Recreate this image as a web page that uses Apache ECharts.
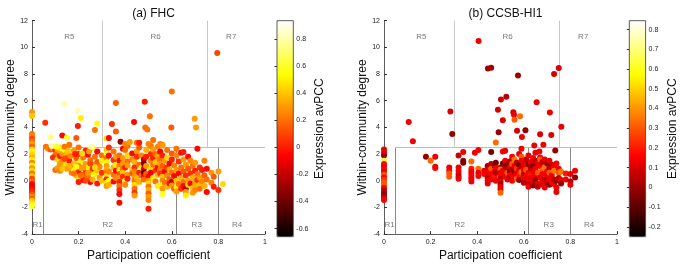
<!DOCTYPE html>
<html><head><meta charset="utf-8">
<script src="https://cdn.jsdelivr.net/npm/echarts@6/dist/echarts.min.js"></script>
<style>html,body{margin:0;padding:0;background:#fff}#c{width:684px;height:267px}</style>
</head><body><div id="c"></div>
<script>
// ---- data: [participation coefficient, within-community degree, expression avPCC]
const fhcR1 = [[0,5.15,0.3],[0,4.85,0.4],[0,3.5,0.2],[0,3.35,0.25],[0,3.15,0.1],[0,2.95,0.2],[0,2.75,0.3],[0,2.55,0.15],[0,2.35,0.45],[0,2.15,0.5],[0,1.95,0.45],[0,1.75,0.35],[0,1.55,0.5],[0,1.35,0.25],[0,1.15,0.55],[0,0.95,0.3],[0,0.75,0.45],[0,0.55,0.2],[0,0.35,0.4],[0,0.15,0.1],[0,-0.05,0.2],[0,-0.25,-0.05],[0,-0.45,-0.1],[0,-0.6,-0.05],[0,-0.75,0.0],[0,-0.9,0.05],[0,-1.05,0.15],[0,-1.2,0.25],[0,-1.35,0.15],[0,-1.5,0.4],[0,-1.7,0.5],[0,-1.9,0.6]];
const fhcHub = [[0.057,4.35,0.05],[0.08,3.26,0.75],[0.13,3.4,-0.05],[0.14,5.78,0.8],[0.15,3.25,0.6],[0.19,3.2,0.15],[0.197,5.24,0.8],[0.197,4.1,0.0],[0.21,4.7,0.5],[0.255,2.55,0.8],[0.27,3.8,0.2],[0.28,4.3,0.55],[0.32,3.16,0.45],[0.33,3.2,-0.05],[0.343,4.25,0.05],[0.36,5.83,0.15],[0.36,3.7,0.15],[0.38,2.92,-0.3],[0.4,2.75,0.25],[0.42,2.9,0.3],[0.438,4.4,-0.05],[0.45,2.85,0.2],[0.46,2.85,0.0],[0.484,5.93,0.0],[0.486,4.0,0.2],[0.495,3.85,0.2],[0.5,2.75,0.25],[0.506,4.84,0.2],[0.52,3.05,0.2],[0.55,2.75,0.25],[0.56,2.65,0.3],[0.598,4.0,0.15],[0.6,6.69,0.2],[0.698,4.64,0.3],[0.704,4.0,0.3],[0.795,9.58,0.1]];
const fhcLow = [[0.06,2.55,0.2],[0.07,2.4,0.25],[0.08,2.35,0.15],[0.09,2.45,0.3],[0.1,2.3,0.05],[0.11,2.15,0.35],[0.12,2.5,0.5],[0.1,1.95,0.2],[0.09,1.75,0.05],[0.11,1.6,0.45],[0.12,1.85,0.0],[0.13,2.0,0.3],[0.13,1.45,0.2],[0.14,2.3,0.55],[0.14,1.2,0.45],[0.15,2.05,0.35],[0.15,1.7,0.2],[0.15,0.9,0.3],[0.16,1.5,0.0],[0.16,2.7,0.2],[0.17,1.9,0.5],[0.17,1.05,0.15],[0.17,0.6,0.25],[0.18,2.25,0.3],[0.18,1.3,0.4],[0.18,0.8,0.5],[0.19,1.7,0.15],[0.19,0.4,0.35],[0.2,2.0,0.05],[0.2,1.15,0.25],[0.2,0.7,0.0],[0.2,0.2,0.45],[0.21,1.5,0.5],[0.21,0.95,0.3],[0.22,1.75,0.2],[0.22,0.45,0.15],[0.22,0.05,-0.05],[0.23,2.25,0.0],[0.23,1.25,0.3],[0.23,0.8,0.05],[0.24,1.95,-0.05],[0.24,1.0,0.5],[0.24,0.3,0.2],[0.25,1.55,0.2],[0.25,0.65,0.45],[0.25,-0.1,-0.05],[0.26,2.45,0.55],[0.26,1.2,0.3],[0.26,0.9,0.05],[0.26,0.1,0.35],[0.27,1.8,0.2],[0.27,0.5,0.5],[0.28,2.2,-0.05],[0.28,1.4,0.15],[0.28,0.75,0.4],[0.28,-0.2,0.0],[0.29,1.05,0.25],[0.29,0.25,0.3],[0.3,1.9,0.2],[0.3,1.5,0.5],[0.3,0.6,0.05],[0.3,0.0,0.4],
[0.1,0.8,0.2],[0.11,0.95,0.3],[0.12,0.75,0.25],[0.13,0.9,0.4],[0.14,1.65,0.1],[0.12,1.25,0.3],[0.16,1.1,0.35],[0.19,1.05,0.55],[0.21,0.4,0.2],[0.23,0.0,0.1],[0.085,2.6,0.8],[0.105,2.55,0.6],[0.14,2.55,0.2],[0.155,2.25,0.4],[0.165,1.85,0.25],[0.185,2.0,0.0],[0.2,2.5,0.2],[0.215,2.05,0.45],[0.245,2.2,0.3],[0.25,1.3,0.1],[0.27,1.0,0.45],[0.22,1.0,0.3],[0.18,0.55,0.2],[0.2,-0.1,0.0],[0.24,0.6,0.3],
[0.32,2.3,0.4],[0.32,2.0,0.55],[0.32,1.7,0.2],[0.32,1.4,0.5],[0.32,1.1,0.3],[0.32,0.85,0.35],[0.32,0.6,0.2],[0.32,0.35,0.45],[0.32,0.1,0.0],[0.32,-0.15,0.5],[0.32,-0.4,0.3],
[0.33,2.5,0.05],[0.33,1.9,-0.05],[0.33,0.7,0.25],[0.33,0.0,0.55],[0.33,-0.3,0.35],
[0.35,2.2,0.2],[0.35,1.55,0.05],[0.35,1.0,0.35],[0.35,0.45,0.2],[0.35,-0.05,-0.05],
[0.36,1.8,0.3],[0.36,1.2,0.5],[0.36,0.75,-0.05],[0.36,0.2,0.25],
[0.375,1.9,0.2],[0.375,1.5,-0.05],[0.375,1.1,0.25],[0.375,0.8,0.5],[0.375,0.5,0.15],[0.375,0.2,0.3],[0.375,-0.1,0.0],[0.375,-0.4,0.2],[0.375,-0.7,0.05],[0.375,-1.0,-0.05],[0.375,-1.65,-0.05],
[0.39,2.4,-0.05],[0.39,1.7,0.3],[0.39,1.3,0.3],[0.39,0.9,0.2],[0.39,0.6,0.4],[0.39,0.3,0.05],
[0.4,2.3,0.2],[0.4,1.0,0.0],[0.4,0.0,0.5],[0.4,-0.3,0.25],
[0.41,2.6,0.2],[0.41,1.9,0.45],[0.41,1.45,0.2],[0.41,1.15,0.3],[0.41,0.45,0.3],[0.41,0.15,0.0],
[0.43,2.05,-0.05],[0.43,1.6,0.25],[0.43,0.85,0.4],[0.43,0.55,0.15],
[0.44,1.4,0.35],[0.44,1.0,0.05],[0.44,0.7,0.25],[0.44,0.3,0.3],[0.44,0.0,0.2],[0.44,-0.3,0.45],[0.44,-0.6,0.2],[0.44,-0.9,0.05],[0.44,-1.1,0.3],
[0.45,2.2,0.3],[0.45,1.8,0.05],[0.45,0.2,0.35],
[0.46,2.5,0.15],[0.46,1.2,0.2],[0.46,0.6,0.0],[0.46,-0.1,0.35],
[0.47,1.9,0.25],[0.47,1.0,0.5],[0.47,0.4,0.2],
[0.48,1.6,-0.2],[0.48,1.3,-0.35],[0.48,0.9,-0.15],[0.48,0.6,-0.45],[0.48,0.3,-0.05],[0.48,0.1,0.2],
[0.49,2.3,0.35],[0.49,1.8,0.0],[0.49,1.1,0.3],[0.49,0.5,0.15],
[0.5,0.3,-0.05],[0.5,0.0,0.3],[0.5,-0.2,0.45],[0.5,-0.45,0.2],[0.5,-0.7,0.35],[0.5,-0.95,0.15],[0.5,-1.2,0.3],[0.5,-1.45,0.25],[0.5,-2.1,0.0],
[0.51,2.6,0.2],[0.51,2.0,0.05],[0.51,1.5,0.25],[0.51,0.9,0.45],[0.51,0.6,-0.1],
[0.52,2.35,0.3],[0.52,1.7,0.0],[0.52,1.2,0.2],[0.52,0.2,0.5],
[0.53,2.0,0.2],[0.53,1.4,0.4],[0.53,0.75,0.05],[0.53,-0.05,0.2],
[0.54,2.55,0.25],[0.54,1.8,0.3],[0.54,1.0,-0.05],[0.54,0.45,0.35],[0.54,-0.4,0.5],
[0.55,2.2,-0.05],[0.55,1.55,0.2],[0.55,1.25,0.3],[0.55,0.85,0.25],[0.55,0.55,0.05],
[0.56,2.7,0.3],[0.56,1.9,0.0],[0.56,1.1,0.15],[0.56,0.3,0.4],[0.56,0.0,0.25],[0.56,-0.3,0.5],[0.56,-0.6,0.3],[0.56,-1.0,0.6],
[0.57,1.5,0.3],[0.57,0.7,-0.05],[0.57,-0.15,0.2],
[0.58,2.3,0.2],[0.58,1.75,0.45],[0.58,1.0,0.05],[0.58,0.4,0.25],[0.58,-0.45,0.35],
[0.59,1.3,-0.05],[0.59,0.85,0.35],[0.59,0.1,0.15],[0.59,-0.2,0.0],
[0.6,2.05,0.15],[0.6,1.6,0.0],[0.6,0.6,0.2],[0.6,-0.1,-0.2],[0.6,-0.35,0.3],
[0.61,1.15,0.25],[0.61,0.35,-0.05],[0.61,-0.6,0.15],
[0.62,2.4,0.2],[0.62,1.9,0.25],[0.62,0.8,0.3],[0.62,0.0,0.4],[0.62,-0.5,0.5],[0.62,-0.8,0.3],
[0.63,1.45,0.05],[0.63,0.55,-0.05],[0.63,-0.25,0.2],
[0.64,2.1,-0.05],[0.64,1.0,0.2],[0.64,0.2,0.35],[0.64,-0.6,0.05],
[0.65,2.15,0.0],[0.65,1.6,0.3],[0.65,0.7,0.15],[0.65,-0.1,0.2],[0.65,-0.4,-0.05],
[0.66,1.2,0.3],[0.66,0.4,0.05],[0.66,-0.6,-0.2],[0.66,-0.85,0.3],[0.66,-1.1,0.5],
[0.67,1.8,-0.05],[0.67,0.9,0.15],[0.67,0.0,0.3],[0.67,-0.3,0.45],
[0.68,1.5,0.25],[0.68,0.55,0.05],[0.68,-0.2,-0.05],
[0.69,1.1,0.2],[0.69,0.25,0.35],[0.69,-0.55,0.4],[0.69,-0.9,0.3],
[0.7,1.35,0.3],[0.7,0.75,0.0],[0.7,-0.1,0.3],[0.7,-0.35,0.35],[0.7,-0.7,0.25],
[0.71,2.4,-0.05],[0.71,0.5,0.2],[0.71,0.05,0.05],
[0.72,1.0,0.05],[0.72,0.2,0.3],[0.72,-0.3,0.4],[0.72,-0.6,0.2],
[0.73,0.8,0.0],[0.73,-0.05,0.25],
[0.74,1.5,0.25],[0.74,0.4,0.15],[0.74,-0.4,0.35],
[0.75,0.9,-0.05],[0.75,0.1,0.2],[0.75,-0.85,-0.05],
[0.77,0.6,0.3],[0.77,-0.15,0.25],
[0.78,0.3,0.15],[0.78,-0.45,0.0],
[0.8,0.7,0.3],[0.8,-0.7,0.05],
[0.82,-0.25,0.45]];

const ccsbR1 = [[0,2.35,0.13],[0,2.1,0.13],[0,1.9,0.0],[0,1.5,0.6],[0,1.25,0.15],[0,1.05,0.13],[0,0.85,0.15],[0,0.65,0.13],[0,0.45,0.3],[0,0.25,0.15],[0,0.05,0.25],[0,-0.15,0.3],[0,-0.35,0.3],[0,-0.55,0.15],[0,-0.75,0.05],[0,-0.95,0.0],[0,-1.15,0.0],[0,-1.3,0.1],[0,-1.45,0.15]];
const ccsbHub = [[0.106,4.4,0.13],[0.124,2.96,0.13],[0.285,5.19,0.1],[0.293,3.5,0.0],[0.406,10.47,0.13],[0.446,8.42,0.0],[0.46,8.47,0.02],[0.48,2.86,0.33],[0.489,5.33,0.1],[0.492,3.63,0.0],[0.502,6.1,0.08],[0.51,4.54,0.1],[0.525,6.3,0.05],[0.555,5.14,0.1],[0.558,4.94,0.13],[0.56,4.57,0.3],[0.571,3.75,0.1],[0.575,7.9,0.0],[0.584,4.84,0.33],[0.592,3.28,0.13],[0.607,3.78,0.0],[0.645,2.65,0.13],[0.655,5.88,0.13],[0.67,3.48,0.1],[0.684,2.69,0.13],[0.712,5.11,0.13],[0.718,3.43,0.1],[0.73,8.0,0.1],[0.75,8.45,0.1],[0.761,4.05,0.13]];
const ccsbLow = [[0.18,1.8,0.0],[0.2,1.5,0.33],[0.22,1.8,0.13],[0.22,1.05,0.13],[0.22,0.95,0.15],
[0.28,1.0,0.13],[0.28,0.75,0.15],[0.28,0.55,0.3],[0.28,0.3,0.3],
[0.32,1.9,0.08],[0.32,1.0,0.13],[0.32,0.75,0.15],[0.32,0.5,0.13],[0.32,0.3,0.05],[0.32,0.15,0.13],
[0.34,2.15,0.13],[0.34,1.5,0.0],[0.34,1.35,-0.05],
[0.375,1.45,0.33],[0.375,0.9,0.2],[0.375,0.7,0.15],[0.375,0.5,0.13],[0.375,0.3,0.15],[0.375,0.15,0.13],[0.375,-0.05,0.13],
[0.39,2.1,0.13],[0.405,2.3,0.15],[0.405,0.9,0.33],[0.405,0.6,0.13],[0.405,0.35,0.15],
[0.43,0.75,0.13],[0.43,0.5,0.15],
[0.445,1.1,0.0],[0.445,0.8,0.13],[0.445,0.6,0.15],[0.445,0.4,0.13],[0.445,0.2,0.05],[0.445,0.0,0.13],[0.445,-0.2,0.13],
[0.46,2.15,-0.05],[0.46,1.25,0.05],[0.46,0.9,0.3],[0.46,0.5,0.15],[0.46,0.1,0.13],
[0.475,1.1,0.0],[0.475,0.7,0.13],[0.475,0.3,0.2],
[0.48,1.35,-0.05],[0.48,0.95,0.15],[0.48,0.6,0.05],[0.48,0.0,0.13],
[0.5,1.0,0.05],[0.5,0.85,0.33],[0.5,0.6,0.13],[0.5,0.4,0.15],[0.5,0.15,0.05],[0.5,-0.05,0.13],[0.5,-0.25,0.0],[0.5,-0.45,0.13],[0.5,-0.65,0.13],[0.5,-0.9,0.33],
[0.51,2.2,0.15],[0.51,1.3,-0.05],[0.51,0.75,0.13],
[0.52,2.25,0.13],[0.52,1.5,0.13],[0.52,1.1,0.0],[0.52,0.55,0.15],[0.52,0.3,0.13],
[0.53,1.2,-0.05],[0.53,0.9,0.0],[0.53,0.6,0.3],[0.53,0.1,0.13],
[0.54,1.45,0.05],[0.54,1.0,0.13],[0.54,0.7,-0.05],[0.54,0.4,0.15],[0.54,0.2,0.05],
[0.55,1.8,0.15],[0.55,1.25,0.3],[0.55,0.85,0.05],[0.55,0.45,0.13],[0.55,0.0,0.15],
[0.56,1.6,0.35],[0.56,1.1,0.13],[0.56,0.7,0.0],[0.56,0.3,0.13],
[0.57,1.35,0.05],[0.57,0.9,0.25],[0.57,0.55,0.13],[0.57,0.15,0.3],
[0.58,2.0,0.13],[0.58,1.2,-0.05],[0.58,0.8,0.13],[0.58,0.4,0.2],[0.58,0.05,0.0],
[0.59,2.4,0.13],[0.59,1.8,0.3],[0.59,1.5,0.15],[0.59,1.0,0.05],[0.59,0.65,0.35],
[0.6,1.3,0.13],[0.6,0.85,0.15],[0.6,0.5,0.05],[0.6,0.15,0.13],[0.6,-0.15,0.05],
[0.61,1.6,0.05],[0.61,1.05,0.15],[0.61,0.8,0.3],[0.61,0.3,0.13],
[0.62,1.9,0.13],[0.62,1.25,0.0],[0.62,0.6,0.15],[0.62,0.0,0.13],[0.62,-0.25,0.05],[0.62,-0.45,0.13],
[0.63,1.4,0.13],[0.63,0.95,0.05],[0.63,0.45,0.2],[0.63,0.2,0.13],
[0.64,1.7,0.15],[0.64,1.1,-0.05],[0.64,0.7,0.13],[0.64,-0.1,0.15],[0.64,-0.35,0.0],
[0.65,2.1,0.13],[0.65,1.5,0.05],[0.65,0.9,0.15],[0.65,0.35,0.13],[0.65,0.05,0.0],
[0.66,1.3,0.13],[0.66,0.6,0.3],[0.66,-0.2,0.13],[0.66,-0.45,0.05],
[0.667,2.2,0.13],[0.67,1.75,0.13],[0.67,1.6,0.3],[0.67,1.1,0.15],[0.67,0.25,0.13],
[0.68,1.4,0.05],[0.68,0.8,0.3],[0.68,0.5,0.13],[0.68,0.0,0.15],[0.68,-0.3,0.13],
[0.69,1.6,0.13],[0.69,1.0,0.35],[0.69,0.1,0.05],[0.69,-0.5,0.13],
[0.7,1.3,0.0],[0.7,0.7,0.15],[0.7,0.35,0.13],[0.7,-0.15,0.05],
[0.71,1.5,0.13],[0.71,0.95,0.05],[0.71,0.6,0.3],[0.71,0.0,0.13],[0.71,-0.3,0.0],
[0.72,1.2,0.05],[0.72,0.4,0.13],[0.72,-0.1,0.15],
[0.73,1.05,0.13],[0.73,0.75,0.35],[0.73,0.1,0.05],[0.73,-0.25,0.13],
[0.735,2.26,0.0],[0.74,1.3,0.15],[0.74,0.0,0.0],[0.74,-0.5,0.13],[0.74,-0.85,0.13],
[0.75,0.9,0.13],[0.75,0.6,0.3],[0.75,0.2,0.05],
[0.76,0.7,0.35],[0.76,0.05,0.13],[0.76,-0.2,0.0],
[0.78,0.55,0.2],[0.78,0.1,0.13],
[0.8,0.5,0.13],[0.8,-0.05,0.05],[0.8,-0.3,0.13],
[0.82,0.75,0.15],[0.82,0.25,0.0]];

// colour ranges (from colour bars)
const fhcRange = [-0.66, 0.935];
const ccsbRange = [-0.25, 0.845];
const fhcBarTicks = [-0.6,-0.4,-0.2,0,0.2,0.4,0.6,0.8];
const ccsbBarTicks = [-0.2,-0.1,0,0.1,0.2,0.3,0.4,0.5,0.6,0.7,0.8];
// region boundaries
const zHub = 2.5;
const pcLowBounds = [0.05, 0.62, 0.8];
const pcHubBounds = [0.3, 0.75];
const regionNames = ['R1','R2','R3','R4','R5','R6','R7'];
const regionPC = [0.024, 0.325, 0.707, 0.88, 0.16, 0.53, 0.855];
const regionZ = [-3.3, -3.3, -3.3, -3.3, 10.8, 10.8, 10.8];
const titles = ['(a) FHC', '(b) CCSB-HI1'];

const FONT = 'Liberation Sans, Arial, sans-serif';
const hot = ['#000000','#550000','#aa0000','#ff0000','#ff5500','#ffaa00','#ffff00','#ffff80','#ffffff'];
const yMin = -4, yMax = 12;

const chart = echarts.init(document.getElementById('c'), null, {renderer:'canvas'});
const plotLefts = [32, 384];
const barLefts = [277, 629.3];
const TOP = 20.7, H = 216, W = 233;

function boundaryLines(){
  const d = [];
  pcLowBounds.forEach(p => d.push({coords:[[p,yMin],[p,zHub]], lineStyle:{color:'#8a8a8a'}}));
  pcHubBounds.forEach(p => d.push({coords:[[p,zHub],[p,yMax]], lineStyle:{color:'#c8c8c8'}}));
  d.push({coords:[[pcLowBounds[0],zHub],[1,zHub]], lineStyle:{color:'#bdbdbd'}});
  return d;
}
const regionData = regionNames.map((n,i)=>({name:n, value:[regionPC[i], regionZ[i]]}));

const grids=[], xAxes=[], yAxes=[], series=[], vms=[], titleOpts=[];
[0,1].forEach(k=>{
  grids.push({left:plotLefts[k], top:TOP, width:W, height:H, containLabel:false});
  xAxes.push({gridIndex:k, type:'value', min:0, max:1, interval:0.2,
    name:'Participation coefficient', nameLocation:'middle', nameGap:13,
    nameTextStyle:{fontFamily:FONT, fontSize:12, color:'#111'},
    axisLine:{show:true, onZero:false, lineStyle:{color:'#333', width:0.8}},
    axisTick:{show:true, inside:true, length:3, lineStyle:{color:'#333'}},
    axisLabel:{fontFamily:FONT, fontSize:7, color:'#222', margin:4},
    splitLine:{show:false}});
  yAxes.push({gridIndex:k, type:'value', min:yMin, max:yMax, interval:2,
    name:'Within-community degree', nameLocation:'middle', nameGap:14,
    nameTextStyle:{fontFamily:FONT, fontSize:12, color:'#111'},
    axisLine:{show:true, onZero:false, lineStyle:{color:'#333', width:0.8}},
    axisTick:{show:true, inside:true, length:3, lineStyle:{color:'#333'}},
    axisLabel:{fontFamily:FONT, fontSize:7, color:'#222', margin:4},
    splitLine:{show:false}});
  titleOpts.push({text:titles[k], left: plotLefts[k]+W/2, top:3, textAlign:'center',
    textStyle:{fontFamily:FONT, fontSize:12, fontWeight:'normal', color:'#111'}});
});
// colour bar grids
[0,1].forEach(k=>{
  const rng = k===0?fhcRange:ccsbRange;
  const ticks = k===0?fhcBarTicks:ccsbBarTicks;
  grids.push({left:barLefts[k], top:TOP, width:16.3, height:H, show:true, borderColor:'#333', borderWidth:0.8, backgroundColor:'transparent', z:10});
  xAxes.push({gridIndex:2+k, type:'value', min:0, max:1, show:false});
  yAxes.push({gridIndex:2+k, type:'value', min:rng[0], max:rng[1], position:'right',
    name:'Expression avPCC', nameLocation:'middle', nameGap:k===0?20:21, nameRotate:90,
    nameTextStyle:{fontFamily:FONT, fontSize:12, color:'#111'},
    axisLine:{show:false},
    axisTick:{show:true, inside:true, length:2.5, customValues:ticks, lineStyle:{color:'#333'}},
    axisLabel:{fontFamily:FONT, fontSize:7, color:'#222', margin:3, customValues:ticks,
      formatter: v => (Math.abs(v)<1e-9?'0':String(+v.toFixed(2)))},
    splitLine:{show:false}});
  vms.push({type:'continuous', seriesIndex:k, dimension:2, min:rng[0], max:rng[1],
    inRange:{color:hot}, calculable:false, hoverLink:false, text:null, showLabel:false,
    left:barLefts[k], top:TOP, itemWidth:16.3, itemHeight:H, padding:0, orient:'vertical', z:5});
});
series.push({type:'scatter', xAxisIndex:0, yAxisIndex:0, symbolSize:6, z:3,
  data: fhcR1.concat(fhcLow, fhcHub), itemStyle:{opacity:1}});
series.push({type:'scatter', xAxisIndex:1, yAxisIndex:1, symbolSize:6, z:3,
  data: ccsbR1.concat(ccsbLow, ccsbHub), itemStyle:{opacity:1}});
[0,1].forEach(k=>{
  series.push({type:'lines', coordinateSystem:'cartesian2d', xAxisIndex:k, yAxisIndex:k, z:2,
    lineStyle:{width:1, opacity:1}, data:boundaryLines(), silent:true});
  series.push({type:'scatter', xAxisIndex:k, yAxisIndex:k, symbolSize:0, z:4, silent:true,
    data:regionData,
    label:{show:true, position:'inside', formatter:p=>p.name, fontFamily:FONT, fontSize:8, color:'#555'}});
});

chart.setOption({animation:false, backgroundColor:'#fff', title:titleOpts, grid:grids,
  xAxis:xAxes, yAxis:yAxes, visualMap:vms, series:series});
</script></body></html>
